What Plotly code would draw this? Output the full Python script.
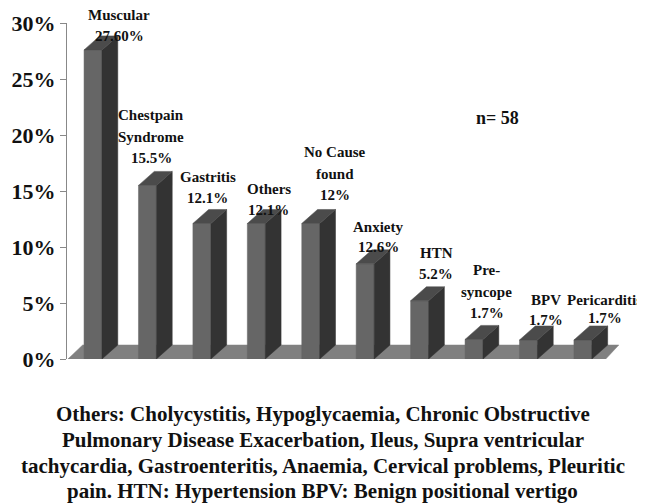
import plotly.graph_objects as go

# ---- data ----
categories = ["Muscular", "Chestpain Syndrome", "Gastritis", "Others", "No Cause found",
              "Anxiety", "HTN", "Pre-syncope", "BPV", "Pericarditis"]
values = [27.6, 15.5, 12.1, 12.1, 12.1, 8.5, 5.2, 1.75, 1.7, 1.7]
label_lines = [
    ["Muscular", "27.60%"],
    ["Chestpain", "Syndrome", "15.5%"],
    ["Gastritis", "12.1%"],
    ["Others", "12.1%"],
    ["No Cause", "found", "12%"],
    ["Anxiety", "12.6%"],
    ["HTN", "5.2%"],
    ["Pre-", "syncope", "1.7%"],
    ["BPV", "1.7%"],
    ["Pericarditis", "1.7%"],
]
tick_values = [0, 5, 10, 15, 20, 25, 30]
tick_labels = ["0%", "5%", "10%", "15%", "20%", "25%", "30%"]
caption_lines = [
    "Others: Cholycystitis, Hypoglycaemia, Chronic Obstructive",
    "Pulmonary Disease Exacerbation, Ileus, Supra ventricular",
    "tachycardia, Gastroenteritis, Anaemia, Cervical problems, Pleuritic",
    "pain. HTN: Hypertension BPV: Benign positional vertigo",
]
n_text = "n= 58"

# ---- styling / layout parameters ----
Y_MAX = 30
BAR_W = 0.33        # front face width (category units)
DX = 0.29           # depth offset in x (category units)
DY = 1.25           # depth offset in y (percent units)
FRONT = "#666666"
SIDE = "#333333"
TOP = "#4b4b4b"
FLOOR = "#808080"
SERIF = "Times New Roman, Liberation Serif, serif"

# label placement: x offset from bar index, y of first line (percent), line gap (percent)
label_dx = [0.48, 0.066, 0.105, 0.226, 0.44, 0.24, 0.305, 0.233, 0.327, 0.40]
label_y0 = [30.69, 21.76, 16.22, 15.15, 18.46, 11.76, 9.44, 7.92, 5.24, 5.24]
label_gap = [1.875, 1.9, 1.875, 1.875, 1.9, 1.8, 1.875, 1.9, 1.8, 1.55]

fig = go.Figure()


def poly(xs, ys, color):
    fig.add_trace(go.Scatter(
        x=xs + [xs[0]], y=ys + [ys[0]], mode="lines", fill="toself",
        fillcolor=color, line=dict(color=color, width=0.5),
        hoverinfo="skip", showlegend=False))


# floor
n = len(values)
fx0 = -0.46
fx1 = n - 1 + 0.42
poly([fx0, fx1, fx1 + 0.24, fx0 + 0.27], [0, 0, DY, DY], FLOOR)
fig.add_trace(go.Scatter(x=[fx0, fx1], y=[-0.12, -0.12], mode="lines",
                         line=dict(color="#d0d0d0", width=1.5),
                         hoverinfo="skip", showlegend=False))

# bars
for i, v in enumerate(values):
    xl = i - BAR_W / 2
    xr = i + BAR_W / 2
    poly([xl, xr, xr, xl], [0, 0, v, v], FRONT)
    poly([xr, xr + DX, xr + DX, xr], [0, DY, v + DY, v], SIDE)
    poly([xl, xr, xr + DX, xl + DX], [v, v, v + DY, v + DY], TOP)

annotations = []
for i, lines in enumerate(label_lines):
    for j, t in enumerate(lines):
        annotations.append(dict(
            x=i + label_dx[i], y=(label_y0[i] - j * label_gap[i]) / Y_MAX,
            xref="x", yref="paper",
            text=t, showarrow=False, xanchor="center", yanchor="middle",
            font=dict(family=SERIF, size=15, color="#111111", weight="bold")))

annotations.append(dict(x=7.43, y=21.48 / Y_MAX, xref="x", yref="paper", text=n_text,
                        showarrow=False, xanchor="center", yanchor="middle",
                        font=dict(family=SERIF, size=18, color="#111111", weight="bold")))

cap_y = [-0.1637, -0.2396, -0.317, -0.394]
for j, t in enumerate(caption_lines):
    annotations.append(dict(x=0.462, y=cap_y[j], xref="paper", yref="paper",
                            text=t, showarrow=False,
                            xanchor="center", yanchor="middle",
                            font=dict(family=SERIF, size=21, color="#111111", weight="bold")))

# the page body adds an 8px offset, margins compensate for it
fig.update_layout(
    width=645, height=504,
    margin=dict(l=59, r=32, t=15, b=153, autoexpand=False),
    paper_bgcolor="white", plot_bgcolor="white",
    annotations=annotations,
    xaxis=dict(range=[-0.478, 9.70], visible=False, fixedrange=True),
    yaxis=dict(range=[0, Y_MAX], tickvals=tick_values, ticktext=tick_labels,
               showgrid=False, zeroline=False, showline=True, linecolor="#888888",
               linewidth=1, ticks="outside", ticklen=6, tickcolor="#888888",
               tickfont=dict(family=SERIF, size=22, color="#111111", weight="bold"),
               fixedrange=True),
)

fig.write_html("out.html")
